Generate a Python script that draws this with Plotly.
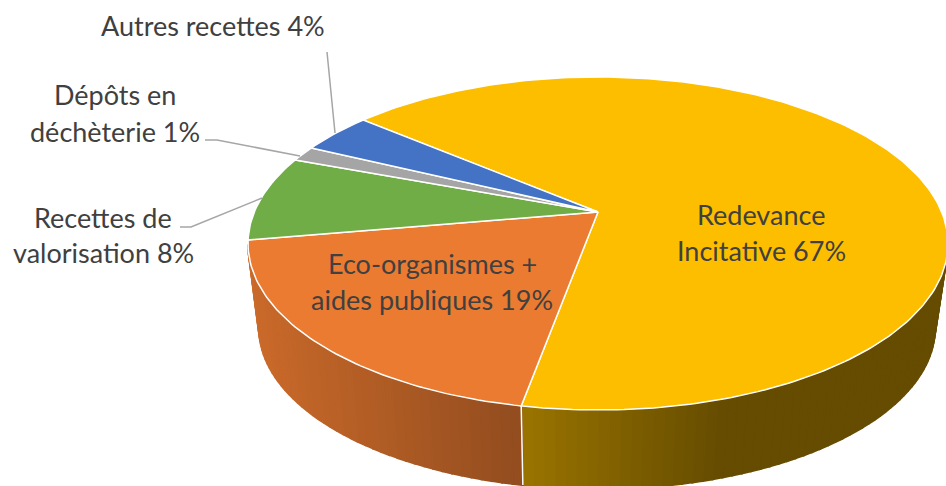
import math
import plotly.graph_objects as go

# --- data ---
categories = ["Redevance Incitative", "Eco-organismes + aides publiques",
              "Recettes de valorisation", "Dépôts en déchèterie", "Autres recettes"]
values = [66.8, 19.4, 8.3, 1.5, 4.0]
colors = ["#FDBE00", "#EB7B31", "#70AD47", "#A5A5A5", "#4472C4"]
label_lines = [
    ("Redevance", 761, 214.5), ("Incitative 67%", 761, 250.5),
    ("Eco-organismes +", 432, 263.5), ("aides publiques 19%", 432, 299.5),
    ("Recettes de", 103, 217.5), ("valorisation 8%", 103, 252.5),
    ("Dépôts en", 115, 94.5), ("déchèterie 1%", 115, 131.5),
    ("Autres recettes 4%", 213, 25.5),
]
leaders = [
    ([327, 335], [52, 133]),
    ([205, 217, 300], [140, 140, 156]),
    ([180, 191, 262], [227, 227, 198]),
]

# --- projection of the pie (pixel-like plot units) ---
START = -50.0
TOP = dict(cx=598, cy=243.5, rx=350, ry=166.5)
BOT = dict(cx=597, cy=328, rx=338, ry=161)
A = 0.189
TEXT = "#404040"
LEAD = "#A6A6A6"
WALL_STOPS = {
    "#FDBE00": [(522, 0.61), (720, 0.40), (946, 0.40)],
    "#EB7B31": [(248, 0.86), (522, 0.62)],
}


def proj(deg):
    u, v = math.sin(math.radians(deg)), math.cos(math.radians(deg))
    k = 1 + A * v
    return u * math.sqrt(1 - A * A) / k, (v + A) / k


def pt(deg, e):
    u, v = proj(deg)
    return e["cx"] + e["rx"] * u, e["cy"] - e["ry"] * v


def wall_color(hexc, x):
    stops = WALL_STOPS.get(hexc, [(0, 0.7), (946, 0.7)])
    if x <= stops[0][0]:
        m = stops[0][1]
    elif x >= stops[-1][0]:
        m = stops[-1][1]
    else:
        m = stops[-1][1]
        for (x0, m0), (x1, m1) in zip(stops, stops[1:]):
            if x0 <= x <= x1:
                m = m0 + (m1 - m0) * (x - x0) / (x1 - x0)
                break
    r, g, b = [int(hexc[i:i + 2], 16) for i in (1, 3, 5)]
    return f"rgb({r * m:.0f},{g * m:.0f},{b * m:.0f})"


total = sum(values)
spans, a0 = [], START
for val in values:
    a1 = a0 + val / total * 360
    spans.append((a0, a1))
    a0 = a1

fig = go.Figure()

# side walls
STEP = 1.5
for (a0, a1), col in zip(spans, colors):
    n = max(1, int((a1 - a0) / STEP))
    for i in range(n):
        s0 = a0 + (a1 - a0) * i / n
        s1 = a0 + (a1 - a0) * (i + 1) / n
        if proj((s0 + s1) / 2)[1] > 0.0:
            continue
        p = [pt(s0, TOP), pt(s1, TOP), pt(s1, BOT), pt(s0, BOT), pt(s0, TOP)]
        c = wall_color(col, (p[0][0] + p[1][0]) / 2)
        fig.add_trace(go.Scatter(x=[q[0] for q in p], y=[q[1] for q in p], mode="lines",
                                 fill="toself", fillcolor=c, line=dict(color=c, width=2),
                                 hoverinfo="skip", showlegend=False))

# white edge between front walls
for (a0, a1) in spans:
    if proj(a1)[1] < -0.2:
        p0, p1 = pt(a1, TOP), pt(a1, BOT)
        fig.add_trace(go.Scatter(x=[p0[0], p1[0]], y=[p0[1], p1[1]], mode="lines",
                                 line=dict(color="white", width=1.5),
                                 hoverinfo="skip", showlegend=False))

# top face
apex = (TOP["cx"], TOP["cy"] - TOP["ry"] * A)
for (a0, a1), col, name, val in zip(spans, colors, categories, values):
    n = max(4, int((a1 - a0) / 1.0))
    arc = [pt(a0 + (a1 - a0) * i / n, TOP) for i in range(n + 1)]
    poly = [apex] + arc + [apex]
    fig.add_trace(go.Scatter(x=[q[0] for q in poly], y=[q[1] for q in poly], mode="lines",
                             fill="toself", fillcolor=col, line=dict(color="white", width=1.5),
                             name=name, text=f"{name}: {val:.0f}%", hoverinfo="text",
                             showlegend=False))

# leader lines
for lx, ly in leaders:
    fig.add_trace(go.Scatter(x=lx, y=ly, mode="lines", line=dict(color=LEAD, width=1.5),
                             hoverinfo="skip", showlegend=False))

for text, x, y in label_lines:
    fig.add_annotation(x=x, y=y, text=text, showarrow=False, xanchor="center", yanchor="middle",
                       font=dict(family="Lato", size=27, color=TEXT))

fig.update_layout(
    width=946, height=486, margin=dict(l=0, r=0, t=0, b=0),
    paper_bgcolor="white", plot_bgcolor="white",
    xaxis=dict(range=[0, 946], visible=False, fixedrange=True),
    yaxis=dict(range=[486, 0], visible=False, fixedrange=True),
)
fig.write_html("out.html", config={"displayModeBar": False},
               post_script="document.body.style.margin='0';document.body.style.overflow='hidden';")
